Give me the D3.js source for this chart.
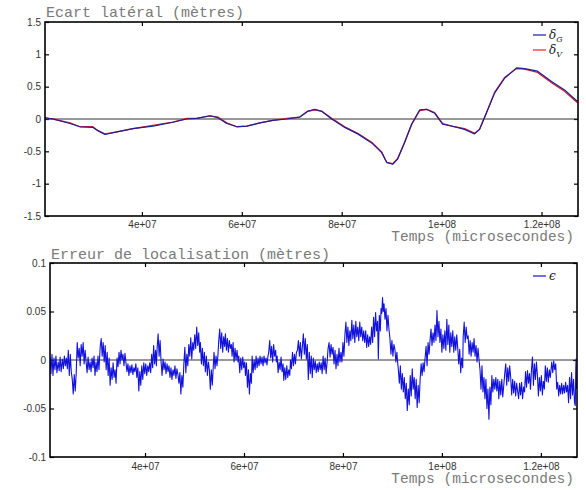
<!DOCTYPE html>
<html>
<head>
<meta charset="utf-8">
<script src="https://cdn.jsdelivr.net/npm/d3@7"></script>
<style>
  body { margin: 0; background: #fff; }
  .tick text { font-family: "Liberation Sans", Arial, sans-serif; font-size: 10px; fill: #333; }
  .tick line { stroke: #000; stroke-width: 1.2; }
  .ttl { font-family: "Liberation Mono", "Courier New", monospace; font-size: 15px; fill: #7a7a7a; }
  .xttl { font-size: 14.5px; }
  .leg { font-family: "DejaVu Serif", "Liberation Serif", serif; font-size: 12px; font-style: italic; fill: #222; }
</style>
</head>
<body>
<div id="chart"></div>
<script>
// time in units of 1e6 microseconds
var ecartT = [20.6, 22.2, 25.6, 27.6, 30.2, 31.2, 32.6, 35.0, 38.2, 42.2, 46.2, 49.0, 51.0, 53.6, 55.2, 57.0,
  59.0, 61.0, 63.6, 66.2, 69.0, 71.6, 73.2, 74.6, 76.0, 78.0, 80.6, 83.2, 86.0, 88.0, 89.0, 90.2, 91.2,
  92.6, 94.0, 95.6, 97.0, 98.6, 100.2, 102.6, 104.6, 106.6, 107.6, 109.0, 110.6, 112.6, 115.0, 116.6,
  119.2, 122.0, 124.6, 127.2];
var deltaG = [0.02, 0.0, -0.07, -0.12, -0.13, -0.18, -0.24, -0.20, -0.15, -0.11, -0.05, 0.0, 0.01, 0.05, 0.02, -0.07,
  -0.12, -0.11, -0.06, -0.02, 0.0, 0.03, 0.12, 0.15, 0.12, 0.0, -0.13, -0.23, -0.37, -0.52, -0.67, -0.70, -0.62,
  -0.36, -0.08, 0.14, 0.15, 0.09, -0.08, -0.12, -0.16, -0.23, -0.16, 0.10, 0.40, 0.63, 0.79, 0.78,
  0.74, 0.58, 0.45, 0.27];
var deltaV = [0.01, 0.0, -0.06, -0.12, -0.12, -0.18, -0.23, -0.20, -0.15, -0.10, -0.05, 0.01, 0.01, 0.05, 0.03, -0.06,
  -0.12, -0.11, -0.06, -0.02, 0.01, 0.03, 0.12, 0.14, 0.12, 0.01, -0.12, -0.22, -0.36, -0.51, -0.67, -0.69, -0.61,
  -0.36, -0.08, 0.13, 0.15, 0.10, -0.07, -0.12, -0.15, -0.22, -0.16, 0.10, 0.41, 0.64, 0.78, 0.77,
  0.72, 0.56, 0.43, 0.25];

// localisation error [time (1e6 us), metres]
var epsilon = [
  [20.81,0.003],[21.0,-0.014],[21.2,0.006],[21.4,-0.016],[21.6,0.002],[21.8,-0.010],
  [22.0,0.004],[22.2,-0.013],[22.45,-0.002],[22.65,-0.011],[22.85,0.003],[23.05,-0.012],
  [23.3,0.001],[23.5,-0.009],[23.7,0.004],[23.9,-0.006],[24.1,0.002],[24.3,-0.009],
  [24.5,0.010],[24.7,-0.016],[24.9,0.006],[25.1,-0.012],
  [25.3,-0.020],[25.5,-0.035],[25.7,-0.015],[25.9,-0.032],[26.1,-0.013],
  [26.3,0.018],[26.5,0.002],[26.7,0.012],[26.9,-0.006],[27.1,0.016],[27.3,0.004],[27.5,0.018],[27.7,-0.004],[27.9,0.010],[28.1,-0.002],
  [28.3,-0.013],[28.5,0.003],[28.7,-0.010],[28.9,-0.002],[29.1,-0.012],[29.3,0.002],[29.5,-0.008],
  [29.7,0.004],[29.9,-0.016],[30.1,-0.002],[30.3,-0.012],[30.5,0.004],[30.7,-0.010],
  [30.95,0.014],[31.15,0.022],[31.35,0.004],[31.55,0.018],[31.75,-0.002],
  [31.95,0.015],[32.15,-0.010],[32.35,0.008],[32.55,-0.016],[32.75,0.002],
  [32.95,-0.026],[33.15,-0.008],[33.35,-0.020],[33.55,-0.003],[33.75,-0.018],[33.95,-0.010],[34.15,-0.024],
  [34.35,0.002],[34.55,-0.007],[34.75,0.008],[34.95,-0.004],[35.15,0.010],[35.35,0.000],[35.55,0.006],[35.75,-0.006],[35.95,0.007],[36.15,-0.003],
  [36.35,-0.012],[36.55,-0.004],[36.75,-0.016],[36.95,-0.006],[37.15,-0.013],[37.35,-0.005],[37.55,-0.015],[37.75,-0.008],[37.95,-0.012],[38.15,-0.004],
  [38.35,-0.018],[38.55,-0.008],[38.75,-0.032],[38.95,-0.012],[39.15,-0.026],[39.35,-0.006],[39.55,-0.020],
  [39.75,-0.003],[39.95,-0.014],[40.15,-0.004],[40.35,-0.016],[40.55,-0.006],[40.75,-0.012],[40.95,-0.003],
  [41.15,-0.013],[41.35,0.006],[41.55,-0.008],[41.75,0.015],[41.95,-0.004],[42.15,0.010],[42.3,-0.006],
  [42.45,0.012],[42.65,0.027],[42.85,0.004],[43.05,0.020],[43.25,-0.002],
  [43.45,-0.016],[43.65,0.001],[43.85,-0.010],[44.05,-0.002],[44.25,-0.014],[44.45,-0.004],[44.65,-0.012],
  [44.85,-0.006],[45.05,-0.018],[45.25,-0.008],[45.45,-0.020],[45.65,-0.010],[45.85,-0.016],[46.05,-0.006],[46.25,-0.019],[46.45,-0.009],[46.65,-0.015],
  [46.85,-0.024],[47.05,-0.013],[47.25,-0.035],[47.45,-0.016],[47.65,-0.028],
  [47.85,-0.004],[48.05,0.013],[48.25,-0.013],[48.45,0.006],[48.65,-0.006],
  [48.85,0.016],[49.05,0.004],[49.25,0.023],[49.45,0.001],[49.65,0.018],
  [49.85,0.010],[50.05,0.026],[50.25,0.012],[50.45,0.034],[50.65,0.015],[50.85,0.028],[51.05,0.008],
  [51.2,0.018],[51.4,-0.004],[51.6,0.012],[51.8,-0.006],[52.0,0.008],
  [52.2,-0.012],[52.4,0.004],[52.6,-0.016],[52.8,-0.002],[53.0,-0.010],
  [53.2,-0.030],[53.4,-0.010],[53.6,-0.026],[53.8,-0.006],
  [53.95,0.008],[54.15,-0.009],[54.35,0.004],[54.55,-0.006],[54.75,0.006],
  [54.9,0.020],[55.1,0.032],[55.3,0.012],[55.5,0.028],[55.7,0.008],[55.9,0.024],[56.1,0.014],
  [56.25,0.027],[56.45,0.010],[56.65,0.022],[56.85,0.008],[57.05,0.020],[57.25,0.012],[57.45,0.016],
  [57.6,0.004],[57.8,0.018],[58.0,-0.002],[58.2,0.012],[58.4,0.000],[58.6,0.010],[58.8,-0.002],
  [58.95,0.004],[59.15,-0.013],[59.35,0.002],[59.55,-0.010],[59.75,0.003],[59.95,-0.008],[60.15,-0.002],
  [60.3,-0.016],[60.5,-0.003],[60.7,-0.028],[60.9,-0.010],[61.1,-0.035],[61.3,-0.014],[61.5,-0.024],
  [61.65,0.004],[61.85,-0.013],[62.05,0.000],[62.25,-0.010],[62.45,0.004],[62.65,-0.008],[62.85,0.002],
  [63.05,-0.006],[63.25,0.004],[63.45,-0.004],[63.65,0.003],[63.85,-0.006],[64.05,0.004],[64.25,-0.003],[64.45,0.002],[64.65,-0.005],[64.85,0.004],
  [65.0,0.008],[65.2,0.020],[65.4,0.002],[65.6,0.014],[65.8,-0.002],[66.0,0.016],[66.2,0.004],[66.4,0.010],[66.55,-0.002],
  [66.7,0.004],[66.9,-0.013],[67.1,-0.002],[67.3,-0.010],[67.5,0.003],[67.7,-0.012],[67.9,-0.004],
  [68.05,-0.021],[68.25,-0.008],[68.45,-0.020],[68.65,-0.006],[68.85,-0.018],[69.05,-0.010],[69.25,-0.016],
  [69.4,0.000],[69.6,-0.009],[69.8,0.008],[70.0,-0.006],[70.2,0.006],[70.4,-0.004],[70.6,0.008],
  [70.8,0.010],[71.0,0.020],[71.2,0.004],[71.4,0.018],[71.6,0.001],[71.8,0.014],
  [72.0,0.027],[72.2,0.006],[72.4,0.022],[72.6,0.001],[72.8,0.016],
  [73.0,-0.020],[73.2,0.008],[73.4,-0.014],[73.6,0.004],[73.8,-0.018],[74.0,0.002],[74.2,-0.010],
  [74.4,-0.001],[74.6,-0.013],[74.8,-0.004],[75.0,-0.012],[75.2,-0.002],[75.4,-0.010],[75.6,-0.003],
  [75.8,-0.014],[76.0,0.004],[76.2,-0.010],[76.4,0.002],[76.6,-0.014],[76.8,-0.002],
  [77.0,0.012],[77.2,0.018],[77.4,0.003],[77.6,0.016],[77.8,0.006],
  [78.0,0.013],[78.2,-0.004],[78.4,0.010],[78.6,-0.009],[78.8,0.006],[79.0,-0.006],[79.2,0.012],[79.4,-0.002],[79.6,0.008],
  [79.8,-0.002],[80.0,0.018],[80.2,0.004],
  [80.4,0.026],[80.6,0.039],[80.8,0.018],[81.0,0.034],[81.2,0.015],[81.4,0.030],[81.6,0.020],
  [81.8,0.041],[82.0,0.022],[82.2,0.036],[82.4,0.018],[82.6,0.040],[82.8,0.024],[83.0,0.034],
  [83.2,0.020],[83.4,0.039],[83.6,0.024],[83.8,0.034],[84.0,0.020],[84.2,0.030],
  [84.4,0.018],[84.6,0.030],[84.8,0.013],[85.0,0.026],[85.2,0.014],[85.4,0.024],[85.6,0.016],
  [85.8,0.034],[86.0,0.018],[86.2,0.044],[86.4,0.024],[86.6,0.049],[86.8,0.030],[87.0,0.040],
  [87.15,0.001],[87.35,0.046],[87.55,0.030],[87.7,0.053],
  [87.85,0.048],[88.0,0.0645],[88.15,0.050],[88.3,0.058],
  [88.5,0.042],[88.7,0.053],[88.9,0.030],[89.1,0.046],[89.3,0.032],
  [89.5,0.022],[89.7,0.006],[89.9,0.020],[90.1,0.004],[90.3,0.016],
  [90.5,0.011],[90.7,-0.002],[90.9,0.008],[91.05,-0.002],
  [91.2,-0.010],[91.4,-0.024],[91.6,-0.006],[91.8,-0.030],[92.0,-0.014],[92.2,-0.033],[92.4,-0.018],
  [92.6,-0.040],[92.8,-0.024],[93.0,-0.052],[93.2,-0.030],[93.4,-0.046],
  [93.6,-0.016],[93.8,-0.037],[94.0,-0.009],[94.2,-0.030],[94.4,-0.018],
  [94.6,-0.040],[94.8,-0.020],[95.0,-0.049],[95.2,-0.026],[95.4,-0.044],
  [95.6,-0.020],[95.8,-0.004],[96.0,-0.016],[96.2,-0.003],[96.4,-0.012],
  [96.6,0.002],[96.8,0.014],[97.0,-0.006],[97.2,0.018],[97.4,0.006],
  [97.6,0.020],[97.8,0.032],[98.0,0.015],[98.2,0.028],[98.4,0.018],
  [98.6,0.036],[98.8,0.020],[99.0,0.051],[99.2,0.024],[99.4,0.040],
  [99.6,0.018],[99.8,0.032],[100.0,0.008],[100.2,0.026],[100.4,0.012],
  [100.6,0.030],[100.8,0.010],[101.0,0.042],[101.2,0.016],[101.4,0.036],[101.6,0.008],[101.8,0.028],
  [102.0,0.014],[102.2,0.030],[102.4,0.008],[102.6,0.024],[102.8,0.010],[103.0,0.026],[103.2,0.012],
  [103.4,-0.004],[103.6,0.011],[103.8,-0.013],[104.0,0.002],[104.2,-0.008],
  [104.3,0.024],[104.5,0.039],[104.7,0.018],[104.9,0.034],[105.1,0.022],
  [105.3,0.025],[105.5,0.006],[105.7,0.020],[105.9,0.004],[106.1,0.018],[106.3,0.008],[106.5,0.022],
  [106.7,0.004],[106.9,0.015],[107.1,-0.002],[107.3,0.012],[107.5,0.000],
  [107.7,-0.010],[107.9,-0.030],[108.1,-0.006],[108.3,-0.033],[108.5,-0.018],
  [108.7,-0.040],[108.9,-0.020],[109.1,-0.050],[109.3,-0.030],[109.5,-0.061],[109.7,-0.028],[109.9,-0.046],
  [110.1,-0.016],[110.3,-0.033],[110.5,-0.020],[110.7,-0.030],[110.9,-0.018],[111.1,-0.032],[111.3,-0.020],
  [111.5,-0.040],[111.7,-0.022],[111.9,-0.036],[112.1,-0.020],[112.3,-0.038],[112.5,-0.026],
  [112.7,-0.014],[112.9,-0.004],[113.1,-0.026],[113.3,-0.008],[113.5,-0.022],[113.7,-0.006],[113.9,-0.018],
  [114.1,-0.036],[114.3,-0.020],[114.5,-0.034],[114.7,-0.022],[114.9,-0.037],[115.1,-0.024],[115.3,-0.032],
  [115.5,-0.040],[115.7,-0.024],[115.9,-0.036],[116.1,-0.023],[116.3,-0.040],[116.5,-0.028],
  [116.7,-0.033],[116.9,-0.012],[117.1,-0.028],[117.3,-0.011],[117.5,-0.024],[117.7,-0.014],[117.9,-0.030],
  [118.1,-0.010],[118.3,0.003],[118.5,-0.026],[118.7,-0.004],[118.9,-0.020],[119.1,-0.002],[119.3,-0.016],
  [119.5,-0.037],[119.7,-0.018],[119.9,-0.032],[120.1,-0.016],[120.3,-0.036],[120.5,-0.022],[120.7,-0.030],
  [120.9,-0.006],[121.1,-0.022],[121.3,-0.008],[121.5,-0.023],[121.7,-0.010],[121.9,-0.018],
  [122.2,-0.002],[122.4,-0.013],[122.6,-0.001],[122.8,-0.010],[123.0,-0.004],
  [123.2,-0.030],[123.4,-0.023],[123.6,-0.037],[123.8,-0.026],[124.0,-0.035],
  [124.2,-0.024],[124.4,-0.035],[124.6,-0.026],[124.8,-0.034],[125.0,-0.023],[125.2,-0.033],[125.4,-0.026],
  [125.6,-0.044],[125.8,-0.018],[126.0,-0.040],[126.2,-0.013],[126.4,-0.036],[126.6,-0.020],[126.8,-0.044],
  [126.95,-0.047],[127.05,-0.010],[127.1,0.001],[127.2,-0.030]
];

var xTicks = [40, 60, 80, 100, 120];
var xLabels = ["4e+07", "6e+07", "8e+07", "1e+08", "1.2e+08"];
var yTopTicks = [-1.5, -1, -0.5, 0, 0.5, 1, 1.5];
var yTopLabels = ["-1.5", "-1", "-0.5", "0", "0.5", "1", "1.5"];
var yBotTicks = [-0.1, -0.05, 0, 0.05, 0.1];
var yBotLabels = ["-0.1", "-0.05", "0", "0.05", "0.1"];

var W = 586, H = 490;
var svg = d3.select("#chart").append("svg").attr("width", W).attr("height", H);

function panel(opt) {
    var x = d3.scaleLinear().domain(opt.xdom).range([opt.l, opt.r]);
    var y = d3.scaleLinear().domain(opt.ydom).range([opt.b, opt.t]);
    var g = svg.append("g");

    // x data are in 1e6 microseconds
    var xt = xTicks.map(function(d) { return d * 1e6; });

    g.append("g").attr("transform", "translate(0," + opt.b + ")")
        .call(d3.axisBottom(x).tickValues(xt)
            .tickFormat(function(d, i) { return xLabels[i]; })
            .tickSize(-4).tickPadding(opt.xpad))
        .call(function(a) { a.select(".domain").remove(); });
    g.append("g").attr("transform", "translate(0," + opt.t + ")")
        .call(d3.axisTop(x).tickValues(xt).tickFormat("").tickSize(-4))
        .call(function(a) { a.select(".domain").remove(); });
    g.append("g").attr("transform", "translate(" + opt.l + ",0)")
        .call(d3.axisLeft(y).tickValues(opt.yticks)
            .tickFormat(function(d, i) { return opt.ylabels[i]; })
            .tickSize(-4).tickPadding(4))
        .call(function(a) { a.select(".domain").remove(); });
    g.append("g").attr("transform", "translate(" + opt.r + ",0)")
        .call(d3.axisRight(y).tickValues(opt.yticks).tickFormat("").tickSize(-4))
        .call(function(a) { a.select(".domain").remove(); });

    // zero line
    g.append("line")
        .attr("x1", opt.l).attr("x2", opt.r)
        .attr("y1", y(0)).attr("y2", y(0))
        .attr("stroke", "#333").attr("stroke-width", 1);

    var clipId = "clip" + opt.t;
    svg.append("clipPath").attr("id", clipId).append("rect")
        .attr("x", opt.l).attr("y", opt.t).attr("width", opt.r - opt.l).attr("height", opt.b - opt.t);

    opt.series.forEach(function(s) {
        var line = d3.line()
            .x(function(d) { return x(d[0] * 1e6); })
            .y(function(d) { return y(d[1]); });
        g.append("path")
            .datum(s.data)
            .attr("clip-path", "url(#" + clipId + ")")
            .attr("fill", "none")
            .attr("stroke", s.color)
            .attr("stroke-width", s.w)
            .attr("stroke-linejoin", "round")
            .attr("d", line);
    });

    // frame
    g.append("rect")
        .attr("x", opt.l).attr("y", opt.t)
        .attr("width", opt.r - opt.l).attr("height", opt.b - opt.t)
        .attr("fill", "none").attr("stroke", "#000").attr("stroke-width", 1.6);

    svg.append("text").attr("class", "ttl")
        .attr("x", opt.l + 1).attr("y", opt.t - opt.tpad)
        .text(opt.title);
    svg.append("text").attr("class", "ttl xttl")
        .attr("x", 574).attr("y", opt.b + opt.xtitle)
        .attr("text-anchor", "end")
        .text("Temps (microsecondes)");

    // legend
    opt.legend.forEach(function(e, i) {
        var ly = opt.t + 13 + i * 15;
        svg.append("line")
            .attr("x1", 533).attr("x2", 546).attr("y1", ly).attr("y2", ly)
            .attr("stroke", e.color).attr("stroke-width", 1.2);
        var t = svg.append("text").attr("class", "leg").attr("x", 549).attr("y", ly + 4);
        t.append("tspan").text(e.sym);
        if (e.sub) t.append("tspan").attr("dy", 3).attr("font-size", "8px").text(e.sub);
    });
}

function pairs(ts, vs) {
    return ts.map(function(t, i) { return [t, vs[i]]; });
}

panel({
    l: 45, r: 578, t: 22, b: 216,
    xdom: [20.6e6, 127.3e6], ydom: [-1.5, 1.5],
    yticks: yTopTicks, ylabels: yTopLabels, xpad: 5, xtitle: 25, tpad: 5,
    title: "Ecart latéral (mètres)",
    series: [
        { data: pairs(ecartT, deltaV), color: "#e8201c", w: 1.3 },
        { data: pairs(ecartT, deltaG), color: "#1c1c9a", w: 1.2 }
    ],
    legend: [
        { sym: "δ", sub: "G", color: "#1c1c9a" },
        { sym: "δ", sub: "V", color: "#e8201c" }
    ]
});

panel({
    l: 50, r: 577, t: 263, b: 457,
    xdom: [20.8e6, 127.3e6], ydom: [-0.1, 0.1],
    yticks: yBotTicks, ylabels: yBotLabels, xpad: 6, xtitle: 26, tpad: 4,
    title: "Erreur de localisation (mètres)",
    series: [
        { data: epsilon, color: "#1212dc", w: 1.1 }
    ],
    legend: [
        { sym: "ϵ", color: "#1212dc" }
    ]
});
</script>
</body>
</html>
